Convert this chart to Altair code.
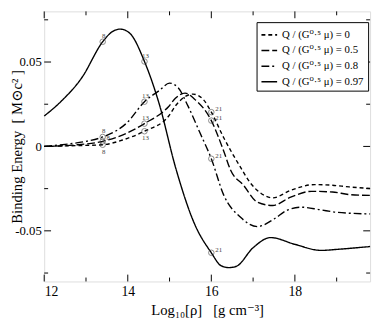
import altair as alt
import pandas as pd

labels = ["Q / (G⁰·⁵ μ) = 0", "Q / (G⁰·⁵ μ) = 0.5", "Q / (G⁰·⁵ μ) = 0.8", "Q / (G⁰·⁵ μ) = 0.97"]
dashes = [[4, 3], [8, 3], [8, 3, 2, 3], [1, 0]]

rho_q00 = [12.0, 12.8, 13.4, 13.9, 14.4, 14.98, 15.14, 15.56, 15.8, 16.0, 16.3, 16.69, 16.93, 17.2, 17.47, 17.9, 18.47, 18.9, 19.3, 19.8]
be_q00 = [0.0, 0.0005, 0.001, 0.004, 0.009, 0.018, 0.024, 0.031, 0.028, 0.0203, 0.005, -0.012, -0.0215, -0.028, -0.0305, -0.026, -0.0226, -0.023, -0.024, -0.0249]

rho_q05 = [12.0, 12.8, 13.4, 13.9, 14.4, 14.98, 15.14, 15.37, 15.6, 16.0, 16.3, 16.46, 16.77, 17.1, 17.47, 17.9, 18.4, 18.9, 19.3, 19.8]
be_q05 = [0.0, 0.001, 0.003, 0.007, 0.0135, 0.0237, 0.0285, 0.0316, 0.028, 0.0153, -0.003, -0.014, -0.023, -0.033, -0.035, -0.030, -0.0266, -0.027, -0.0285, -0.029]

rho_q08 = [12.0, 12.5, 13.0, 13.4, 13.98, 14.4, 14.75, 15.0, 15.2, 15.44, 15.72, 16.0, 16.3, 16.7, 17.1, 17.5, 17.8, 18.16, 18.6, 19.0, 19.8]
be_q08 = [0.0, 0.0012, 0.003, 0.0056, 0.014, 0.0265, 0.033, 0.0375, 0.035, 0.024, 0.0085, -0.0073, -0.029, -0.042, -0.0475, -0.043, -0.038, -0.036, -0.0375, -0.039, -0.040]

rho_q097 = [12.0, 12.4, 12.9, 13.4, 13.63, 13.82, 14.05, 14.4, 14.75, 15.15, 15.6, 16.0, 16.23, 16.42, 16.6, 17.0, 17.42, 18.0, 18.63, 19.0, 19.8]
be_q097 = [0.018, 0.0266, 0.0407, 0.062, 0.068, 0.0695, 0.067, 0.0503, 0.0254, -0.013, -0.046, -0.063, -0.0706, -0.0718, -0.071, -0.060, -0.054, -0.058, -0.0616, -0.061, -0.0593]

# marked models (index labels)
mark_rho = [13.4, 13.4, 13.4, 13.4, 14.4, 14.4, 14.4, 14.4, 16.0, 16.0, 16.0, 16.0]
mark_be = [0.001, 0.003, 0.0056, 0.062, 0.009, 0.0135, 0.0265, 0.0503, 0.0203, 0.0153, -0.0073, -0.063]
mark_txt = ["8", "8", "8", "8", "13", "13", "13", "13", "21", "21", "21", "21"]
mark_pos = ["below", "right", "above", "above", "below", "above", "above", "above", "right", "right", "right", "right"]

x_major = [12, 14, 16, 18]
x_minor = [13, 15, 17, 19]
y_major = [-0.05, 0, 0.05]
y_minor = [-0.075, -0.025, 0.025, 0.075]

rows = []
for lab, xs, ys in zip(labels, [rho_q00, rho_q05, rho_q08, rho_q097], [be_q00, be_q05, be_q08, be_q097]):
    for a, b in zip(xs, ys):
        rows.append({"series": lab, "x": a, "y": b})
df = pd.DataFrame(rows)
mk = pd.DataFrame({"x": mark_rho, "y": mark_be, "t": mark_txt, "pos": mark_pos})

W, H = 333, 276
FONT = "Liberation Serif, Times New Roman, DejaVu Serif, serif"
NB = "\u00a0"
xs = alt.Scale(domain=[12, 19.8], nice=False, zero=False)
ys = alt.Scale(domain=[-0.08, 0.08], nice=False, zero=False)

lines = alt.Chart(df).mark_line(strokeWidth=1.4, interpolate="monotone", color="black").encode(
    x=alt.X("x:Q", scale=xs, axis=alt.Axis(values=x_major, ticks=False, domain=False, grid=False,
                                           labelFontSize=14, labelPadding=3, labelFont=FONT, labelColor="black",
                                           title="Log₁₀[ρ]" + NB * 3 + "[g" + NB + "cm⁻³]", titleFontSize=15,
                                           titleFont=FONT, titleFontWeight="normal", titlePadding=5,
                                           titleColor="black")),
    y=alt.Y("y:Q", scale=ys, axis=alt.Axis(values=y_major, ticks=False, domain=False, grid=False,
                                           labelFontSize=13, labelPadding=3, labelFont=FONT, labelColor="black",
                                           labelExpr="datum.value == 0 ? '0' : (datum.value < 0 ? '-' : '') + format(abs(datum.value), '.2f')",
                                           title="Binding Energy" + NB * 2 + "[" + NB + "M⊙c²" + NB + "]", titleFontSize=15,
                                           titleFont=FONT, titleFontWeight="normal", titleX=-20,
                                           titleColor="black")),
    strokeDash=alt.StrokeDash("series:N", scale=alt.Scale(domain=labels, range=dashes), sort=labels,
                              legend=alt.Legend(title=None, orient="none", legendX=217, legendY=11,
                                                fillColor="white", strokeColor="black", padding=4,
                                                labelFont=FONT, labelFontSize=11, labelColor="black",
                                                symbolType="stroke", labelOffset=4,
                                                symbolSize=256, symbolStrokeWidth=1.6,
                                                symbolStrokeColor="black", rowPadding=2, cornerRadius=0)),
)

pts = alt.Chart(mk).mark_point(shape="circle", filled=False, size=32, color="#444", strokeWidth=0.9).encode(
    x=alt.X("x:Q", scale=xs), y=alt.Y("y:Q", scale=ys))

def lab(pos, dx, dy, align):
    return alt.Chart(mk).transform_filter(alt.datum.pos == pos).mark_text(
        font=FONT, fontSize=7, fill="#444", dx=dx, dy=dy, align=align).encode(
        x=alt.X("x:Q", scale=xs), y=alt.Y("y:Q", scale=ys), text="t:N")

labs = [lab("above", 1, -6, "center"), lab("below", 1, 7, "center"), lab("right", 4, -3, "left")]

def xticks(vals, L):
    d = pd.DataFrame({"x": vals})
    b = alt.Chart(d).mark_rule(color="black").encode(x=alt.X("x:Q", scale=xs), y=alt.value(H), y2=alt.value(H - L))
    t = alt.Chart(d).mark_rule(color="black").encode(x=alt.X("x:Q", scale=xs), y=alt.value(0), y2=alt.value(L))
    return [b, t]

def yticks(vals, L):
    d = pd.DataFrame({"y": vals})
    l = alt.Chart(d).mark_rule(color="black").encode(y=alt.Y("y:Q", scale=ys), x=alt.value(0), x2=alt.value(L))
    r = alt.Chart(d).mark_rule(color="black").encode(y=alt.Y("y:Q", scale=ys), x=alt.value(W), x2=alt.value(W - L))
    return [l, r]

ticks = xticks(x_major, 7) + xticks(x_minor, 4) + yticks(y_major, 7) + yticks(y_minor, 4)

chart = alt.layer(lines, pts, *labs, *ticks).properties(
    width=W, height=H,
    autosize=alt.AutoSizeParams(type="none"),
    padding={"left": 37, "top": 0, "right": 4, "bottom": 40},
).configure_view(stroke="black", strokeWidth=1).configure(background="white", font=FONT)

chart.save("out.html", embed_options={"renderer": "svg", "actions": False})
